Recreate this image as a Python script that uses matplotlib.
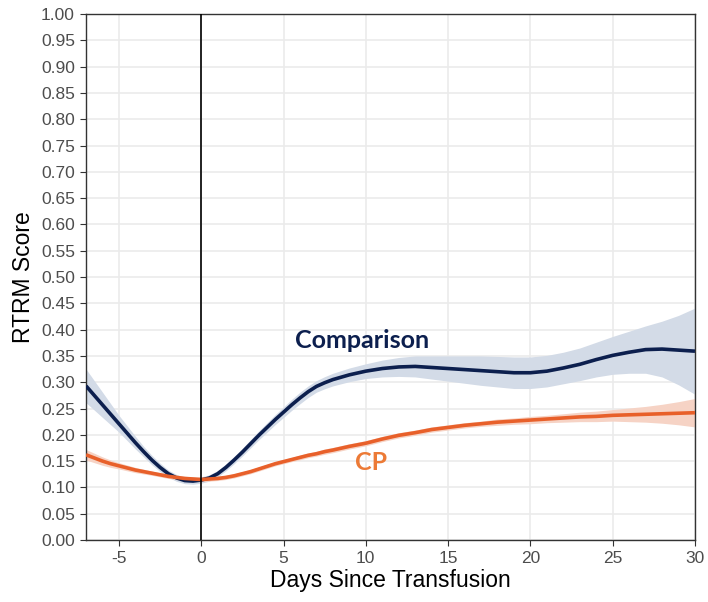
import matplotlib
matplotlib.use("Agg")
import matplotlib.pyplot as plt
import numpy as np

days = [-7, -6.5, -6, -5.5, -5, -4.5, -4, -3.5, -3, -2.5, -2, -1.5, -1, -0.5, 0, 0.5, 1, 1.5,
        2, 2.5, 3, 3.5, 4, 4.5, 5, 5.5, 6, 6.5, 7, 7.5, 8,
        9, 10, 11, 12, 13, 14, 15, 16, 17, 18, 19, 20, 21, 22, 23, 24, 25, 26, 27, 28, 29, 30]

comparison = [0.293, 0.275, 0.257, 0.239, 0.221, 0.203, 0.185, 0.168, 0.152, 0.138, 0.126, 0.118,
              0.113, 0.112, 0.114, 0.118, 0.126, 0.138, 0.152, 0.167, 0.183, 0.199, 0.214, 0.229,
              0.243, 0.257, 0.270, 0.282, 0.292, 0.299, 0.305,
              0.314, 0.321, 0.326, 0.329, 0.330, 0.328, 0.326, 0.324, 0.322, 0.320, 0.318, 0.318,
              0.321, 0.327, 0.334, 0.343, 0.351, 0.357, 0.362, 0.363, 0.361, 0.359]
comparison_hw = [0.032, 0.028, 0.024, 0.020, 0.016, 0.014, 0.012, 0.010, 0.009, 0.008, 0.007, 0.0065,
                 0.006, 0.006, 0.006, 0.006, 0.006, 0.0065, 0.007, 0.0075, 0.008, 0.0085, 0.009, 0.0095,
                 0.010, 0.0105, 0.011, 0.011, 0.011, 0.0115, 0.012,
                 0.013, 0.014, 0.016, 0.018, 0.020, 0.022, 0.024, 0.026, 0.028, 0.029, 0.030, 0.030,
                 0.030, 0.030, 0.031, 0.033, 0.036, 0.040, 0.045, 0.053, 0.066, 0.082]
cp = [0.162, 0.156, 0.150, 0.145, 0.141, 0.137, 0.133, 0.130, 0.127, 0.124, 0.121, 0.119,
      0.117, 0.116, 0.115, 0.116, 0.117, 0.119, 0.122, 0.126, 0.130, 0.135, 0.140, 0.145,
      0.149, 0.153, 0.157, 0.161, 0.164, 0.168, 0.171,
      0.178, 0.184, 0.192, 0.199, 0.204, 0.210, 0.214, 0.218, 0.221, 0.224, 0.226, 0.228,
      0.230, 0.232, 0.234, 0.235, 0.237, 0.238, 0.239, 0.240, 0.241, 0.242]
cp_hw = [0.010, 0.009, 0.008, 0.007, 0.006, 0.0055, 0.005, 0.0045, 0.004, 0.004, 0.004, 0.004,
         0.004, 0.004, 0.004, 0.004, 0.004, 0.004, 0.004, 0.004, 0.004, 0.004, 0.004, 0.004,
         0.004, 0.004, 0.0045, 0.0045, 0.0045, 0.005, 0.005,
         0.005, 0.005, 0.005, 0.005, 0.005, 0.005, 0.005, 0.005, 0.005, 0.006, 0.006, 0.007,
         0.007, 0.008, 0.009, 0.010, 0.011, 0.013, 0.015, 0.018, 0.022, 0.027]

x_ticks = [-5, 0, 5, 10, 15, 20, 25, 30]
y_ticks = [round(0.05 * i, 2) for i in range(21)]

navy = "#0c1f4e"
orange = "#e8602a"

plt.rcParams['font.family'] = ['Liberation Sans', 'DejaVu Sans']

fig = plt.figure(figsize=(7.08, 6.02), dpi=100)
ax = fig.add_axes([0.1215, 0.103, 0.8601, 0.8737])

x = np.array(days)
c = np.array(comparison)
ch = np.array(comparison_hw)
p = np.array(cp)
ph = np.array(cp_hw)

ax.fill_between(x, c - ch, c + ch, color="#d3dbe7", lw=0, zorder=2)
ax.fill_between(x, p - ph, p + ph, color="#f6d3c5", lw=0, zorder=2)
ax.plot(x, c, color=navy, lw=2.6, zorder=3, solid_capstyle="butt", solid_joinstyle="round")
ax.plot(x, p, color=orange, lw=2.6, zorder=3, solid_capstyle="butt", solid_joinstyle="round")
ax.axvline(0, color="black", lw=1.2, zorder=4)

ax.text(9.8, 0.379, "Comparison", color=navy, fontsize=18, fontweight="bold",
        family="Lato", ha="center", va="center")
ax.text(10.3, 0.147, "CP", color="#ec7a36", fontsize=18, fontweight="bold",
        family="Lato", ha="center", va="center")

ax.set_xlim(-7, 30)
ax.set_ylim(0, 1.0)
ax.set_xticks(x_ticks)
ax.set_xticklabels([str(t) for t in x_ticks])
ax.set_yticks(y_ticks)
ax.set_yticklabels([f"{t:.2f}" for t in y_ticks])
ax.grid(True, color="#ebebeb", lw=1.2, zorder=0)
ax.set_axisbelow(True)
for s in ax.spines.values():
    s.set_color("#333333")
    s.set_linewidth(1.0)
ax.tick_params(axis="both", colors="#333333", labelcolor="#4d4d4d", labelsize=12.5, length=4.5)
ax.set_xlabel("Days Since Transfusion", fontsize=16.5, labelpad=2)
ax.set_ylabel("RTRM Score", fontsize=16.5, labelpad=4)

fig.savefig("out.png", dpi=100)
